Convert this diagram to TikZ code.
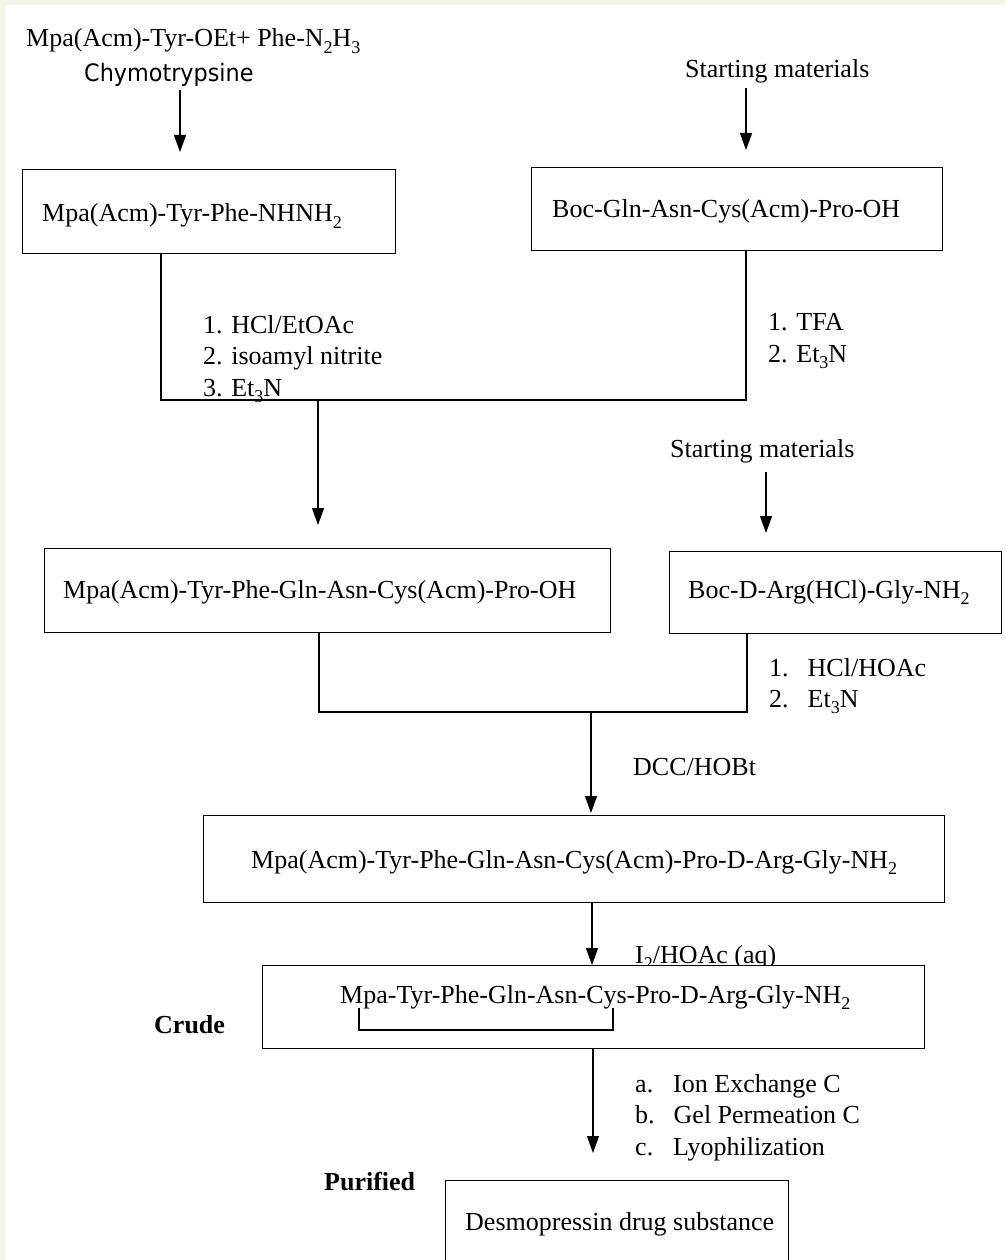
\documentclass[tikz,border=0pt]{standalone}
\usepackage{fontspec}
\setmainfont{Liberation Serif}
\newfontfamily\chymfont[FakeStretch=0.93]{DejaVu Sans}
\usetikzlibrary{arrows.meta}
\newcommand\sbs[1]{\raisebox{-0.25em}{\fontsize{18}{18}\selectfont #1}}
\definecolor{bgc}{HTML}{F2F5E8}
\begin{document}
\begin{tikzpicture}[x=1pt,y=-1pt,
  ln/.style={line width=1.3pt},
  arr/.style={line width=1.3pt,-{Triangle[length=17pt,width=12pt]}},
  box/.style={draw,line width=1.3pt,anchor=north west,inner sep=0pt,fill=white},
  lbl/.style={anchor=base west,inner sep=0pt,font=\fontsize{26}{31}\selectfont},
  blbl/.style={anchor=base west,inner sep=0pt,font=\fontsize{26}{31}\selectfont\bfseries}]
\useasboundingbox (0,0) rectangle (1005,1260);
\clip (0,0) rectangle (1005,1260);
\fill[bgc] (0,0) rectangle (1005,1260);
\fill[white] (5,5) rectangle (1005,1260);

% top left
\node[lbl] (top) at (26,47) {Mpa(Acm)-Tyr-OEt+ Phe-N\sbs{2}H\sbs{3}};
\node[anchor=base west,inner sep=0pt,font=\chymfont\fontsize{24}{28}\selectfont] (chym) at (84,82) {Chymotrypsine};
\coordinate (a1s) at (180,90);
\coordinate (a1e) at (180,152);
\draw[arr] (a1s) -- (a1e);
\node[box,minimum width=373pt,minimum height=84pt] (b1) at (22,169) {};
\node[lbl] (t1) at (42,222) {Mpa(Acm)-Tyr-Phe-NHNH\sbs{2}};

% top right
\node[lbl] (s1) at (685,78) {Starting materials};
\coordinate (a2s) at (746,88);
\coordinate (a2e) at (746,150);
\draw[arr] (a2s) -- (a2e);
\node[box,minimum width=411pt,minimum height=83pt] (b2) at (531,167) {};
\node[lbl] (t2) at (552,218) {Boc-Gln-Asn-Cys(Acm)-Pro-OH};

% merge 1
\coordinate (j1l) at (161,400);
\coordinate (j1r) at (746,400);
\coordinate (j1m) at (318,400);
\draw[ln] (b1.south -| j1l) -- (j1l) -- (j1r) -- (b2.south -| j1r);
\node[lbl] (r1a) at (203,333) {1. HCl/EtOAc};
\node[lbl] (r1b) at (203,364) {2. isoamyl nitrite};
\node[lbl] (r1c) at (203,396) {3. Et\sbs{3}N};
\node[lbl] (r2a) at (768,330) {1. TFA};
\node[lbl] (r2b) at (768,362) {2. Et\sbs{3}N};
\coordinate (a3e) at (318,525);
\draw[arr] (j1m) -- (a3e);

% second row
\node[lbl] (s2) at (670,457) {Starting materials};
\coordinate (a4s) at (766,472);
\coordinate (a4e) at (766,533);
\draw[arr] (a4s) -- (a4e);
\node[box,minimum width=566pt,minimum height=84pt] (b3) at (44,548) {};
\node[lbl] (t3) at (63,598) {Mpa(Acm)-Tyr-Phe-Gln-Asn-Cys(Acm)-Pro-OH};
\node[box,minimum width=332pt,minimum height=82pt] (b4) at (669,551) {};
\node[lbl] (t4) at (688,598) {Boc-D-Arg(HCl)-Gly-NH\sbs{2}};

% merge 2
\coordinate (j2l) at (319,712);
\coordinate (j2r) at (747,712);
\coordinate (j2m) at (591,712);
\draw[ln] (b3.south -| j2l) -- (j2l) -- (j2r) -- (b4.south -| j2r);
\node[lbl] (r3a) at (769,676) {1.\hspace{19pt}HCl/HOAc};
\node[lbl] (r3b) at (769,707) {2.\hspace{19pt}Et\sbs{3}N};
\coordinate (a5e) at (591,813);
\draw[arr] (j2m) -- (a5e);
\node[lbl] (dcc) at (633,775) {DCC/HOBt};

% full protected peptide
\node[box,minimum width=741pt,minimum height=87pt] (b5) at (203,815) {};
\node[lbl] (t5) at (251,868) {Mpa(Acm)-Tyr-Phe-Gln-Asn-Cys(Acm)-Pro-D-Arg-Gly-NH\sbs{2}};

% oxidation
\coordinate (a6x) at (592,0);
\node[lbl] (iod) at (635,963) {I\sbs{2}/HOAc (aq)};
\node[box,minimum width=662pt,minimum height=83pt] (b6) at (262,965) {};
\draw[arr] (b5.south -| a6x) -- (b6.north -| a6x);
\node[lbl] (t6) at (340,1003) {Mpa-Tyr-Phe-Gln-Asn-Cys-Pro-D-Arg-Gly-NH\sbs{2}};
\coordinate (k1) at (359,1008);
\coordinate (k2) at (359,1030);
\coordinate (k3) at (613,1030);
\coordinate (k4) at (613,1008);
\draw[ln] (k1) -- (k2) -- (k3) -- (k4);
\node[blbl] (crude) at (154,1033) {Crude};

% purification
\coordinate (a7x) at (593,0);
\coordinate (a7e) at (593,1153);
\draw[arr] (b6.south -| a7x) -- (a7e);
\node[lbl] (p1) at (635,1092) {a.\hspace{20pt}Ion Exchange C};
\node[lbl] (p2) at (635,1123) {b.\hspace{19pt}Gel Permeation C};
\node[lbl] (p3) at (635,1155) {c.\hspace{20pt}Lyophilization};
\node[blbl] (pur) at (324,1190) {Purified};
\node[box,minimum width=343pt,minimum height=90pt] (b7) at (445,1180) {};
\node[lbl] (t7) at (465,1230) {Desmopressin drug substance};
\end{tikzpicture}
\end{document}
